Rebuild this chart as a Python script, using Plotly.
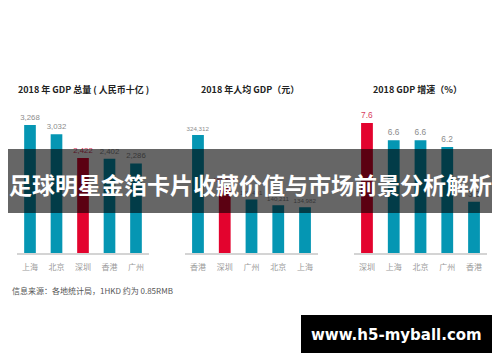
import plotly.graph_objects as go

# ---- data ----
gdp_cities = ["上海", "北京", "深圳", "香港", "广州"]
gdp_values = [3268, 3032, 2422, 2402, 2286]

pc_cities = ["香港", "深圳", "广州", "北京", "上海"]
pc_values = [324312, 189568, 155491, 140211, 134982]

gr_cities = ["深圳", "上海", "北京", "广州", "香港"]
gr_values = [7.6, 6.6, 6.6, 6.2, 3.0]

chart_titles = ["2018 年 GDP 总量 ( 人民币十亿 )", "2018 年人均 GDP（元）", "2018 GDP 增速（%）"]
source_text = "信息来源：各地统计局，1HKD 约为 0.85RMB"
banner_text = "足球明星金箔卡片收藏价值与市场前景分析解析"
watermark_text = "www.h5-myball.com"
highlight = "深圳"

TEAL = "#0596b3"
RED = "#e3032e"
LBL_GRAY = "#8c8c8c"
LBL_RED = "#d83a5c"
CJK = "Noto Sans CJK SC"
NUM = "Liberation Sans, Noto Sans CJK SC"

# page is offset by the body's 8px margin
OFF = 8
W, H = 500 - OFF, 362 - OFF
def px(x):
    return (x - OFF) / W
def py(y):
    return 1 - (y - OFF) / H

def colors(cats, a, b):
    return [b if c == highlight else a for c in cats]

fig = go.Figure()
fig.add_trace(go.Bar(
    x=gdp_cities, y=gdp_values, xaxis="x", yaxis="y",
    marker=dict(color=colors(gdp_cities, TEAL, RED), line=dict(width=0)),
    text=[f"{v:,}" for v in gdp_values], textposition="outside", cliponaxis=False,
    constraintext="none",
    textfont=dict(size=7.8, family=NUM, color=colors(gdp_cities, LBL_GRAY, LBL_RED)),
))
fig.add_trace(go.Bar(
    x=pc_cities, y=pc_values, xaxis="x2", yaxis="y2",
    marker=dict(color=colors(pc_cities, TEAL, RED), line=dict(width=0)),
    text=[f"{v:,}" for v in pc_values], textposition="outside", cliponaxis=False,
    constraintext="none",
    textfont=dict(size=6.2, family=NUM, color=colors(pc_cities, LBL_GRAY, LBL_RED)),
))
fig.add_trace(go.Bar(
    x=gr_cities, y=gr_values, xaxis="x3", yaxis="y3",
    marker=dict(color=colors(gr_cities, TEAL, RED), line=dict(width=0)),
    text=[f"{v:.1f}" for v in gr_values], textposition="outside", cliponaxis=False,
    constraintext="none",
    textfont=dict(size=8.3, family=NUM, color=colors(gr_cities, LBL_GRAY, LBL_RED)),
))

ydom = [py(253), py(100)]
xax = dict(showline=True, linecolor="#d4d4d4", linewidth=1.5, showgrid=False, zeroline=False,
           ticks="", tickfont=dict(size=8, family=CJK, color="#9a9a9a"), ticklabelstandoff=6,
           fixedrange=True)
yax = dict(visible=False, showgrid=False, zeroline=False, fixedrange=True)

fig.update_layout(
    width=W, height=H, margin=dict(l=0, r=0, t=0, b=0),
    paper_bgcolor="white", plot_bgcolor="white", showlegend=False,
    bargap=0.56,
    xaxis=dict(xax, domain=[px(16.75), px(149.25)], anchor="y"),
    xaxis2=dict(xax, domain=[px(184.6), px(318.4)], anchor="y2"),
    xaxis3=dict(xax, domain=[px(353.6), px(487.4)], anchor="y3"),
    yaxis=dict(yax, domain=ydom, range=[0, 3903], anchor="x"),
    yaxis2=dict(yax, domain=ydom, range=[15000, 416000], anchor="x2"),
    yaxis3=dict(yax, domain=ydom, range=[0, 8.95], anchor="x3"),
)

# chart titles
for t, xc, anchor in [(chart_titles[0], px(16), "left"), (chart_titles[1], px(249.5), "center"),
                      (chart_titles[2], px(417), "center")]:
    fig.add_annotation(text=f"<b>{t}</b>", x=xc, y=py(90), xref="paper", yref="paper",
                       xanchor=anchor, yanchor="middle", showarrow=False,
                       font=dict(size=9, family=CJK, color="#222222"))

fig.add_annotation(text=source_text, x=px(10), y=py(290), xref="paper", yref="paper",
                   xanchor="left", yanchor="middle", showarrow=False,
                   font=dict(size=8, family=CJK, color="#555555"))

# banner overlay
fig.add_shape(type="rect", xref="paper", yref="paper", x0=px(8), x1=px(492), y0=py(213), y1=py(149),
              fillcolor="rgba(0,0,0,0.6)", line=dict(width=0), layer="above")
fig.add_annotation(text=f"<b>{banner_text}</b>", x=px(250), y=py(184), xref="paper", yref="paper",
                   xanchor="center", yanchor="middle", showarrow=False,
                   font=dict(size=23, family=CJK, color="white"))

# watermark box
fig.add_shape(type="rect", xref="paper", yref="paper", x0=px(301), x1=px(492), y0=py(353), y1=py(315),
              fillcolor="black", line=dict(width=0), layer="above")
fig.add_annotation(text=f"<b>{watermark_text}</b>", x=px(396.5), y=py(334.5), xref="paper", yref="paper",
                   xanchor="center", yanchor="middle", showarrow=False,
                   font=dict(size=15, family="DejaVu Sans, Liberation Sans", color="white"))

fig.write_html("out.html", config={"displayModeBar": False})
